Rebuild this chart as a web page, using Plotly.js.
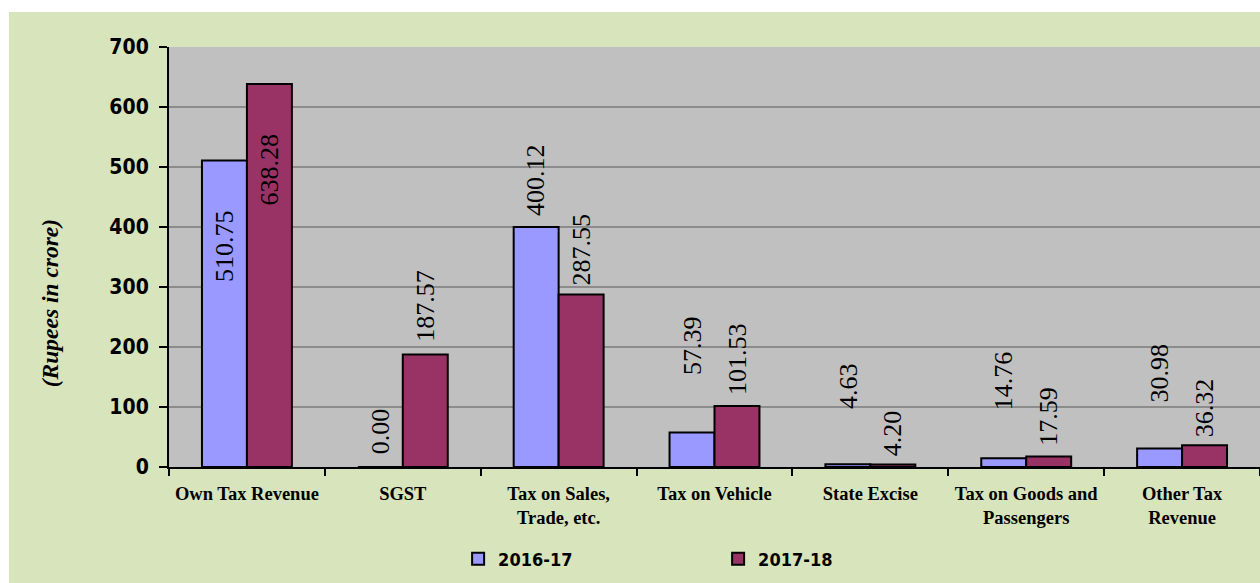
<!DOCTYPE html>
<html><head><meta charset="utf-8">
<script src="https://cdn.plot.ly/plotly-3.0.1.min.js"></script>
<style>
html,body{margin:0;padding:0;background:#ffffff;width:1260px;height:583px;overflow:hidden}
#chart{position:absolute;left:9px;top:12px;width:1251px;height:571px}
</style>
</head><body><div id="chart"></div>
<script>
const categories = ['Own Tax Revenue', 'SGST', 'Tax on Sales,<br>Trade, etc.', 'Tax on Vehicle', 'State Excise', 'Tax on Goods and<br>Passengers', 'Other Tax<br>Revenue'];
const seriesNames = ['2016-17', '2017-18'];
const values2016 = [510.75, 0.00, 400.12, 57.39, 4.63, 14.76, 30.98];
const values2017 = [638.28, 187.57, 287.55, 101.53, 4.20, 17.59, 36.32];
const yTicks = [0, 100, 200, 300, 400, 500, 600, 700];
const yTitle = '(Rupees in crore)';

// label placement (pixels from bar top; style only)
const labelShift2016 = [-123, 11, 9, 55, 53, 46, 44];
const labelShift2017 = [-123, 11, 7, 9, 6, 9, 6];
const colors = ['#9999ff', '#993366'];

const traces = [values2016, values2017].map((vals, k) => ({
  type: 'bar',
  name: seriesNames[k],
  x: categories,
  y: vals,
  marker: {color: colors[k], line: {color: '#000000', width: 2}},
  hoverinfo: 'x+y'
}));

const annotations = [];
[[values2016, labelShift2016, -22.5], [values2017, labelShift2017, 22.5]].forEach(([vals, shifts, xs]) => {
  vals.forEach((v, i) => {
    annotations.push({
      x: categories[i], y: v, xref: 'x', yref: 'y',
      text: v.toFixed(2), showarrow: false, textangle: -90,
      xshift: xs, yshift: shifts[i], yanchor: 'bottom', xanchor: 'center',
      font: {family: 'Liberation Serif, serif', size: 26, color: '#000000'}
    });
  });
});
annotations.push({
  xref: 'paper', yref: 'paper', x: -0.109, y: 0.39, xanchor: 'center', yanchor: 'middle',
  text: yTitle, showarrow: false, textangle: -90,
  font: {family: 'Liberation Serif, serif', size: 23.5, color: '#000000', weight: 'bold', style: 'italic'}
});

const layout = {
  width: 1251, height: 571,
  margin: {l: 160, r: 0, t: 35, b: 116},
  paper_bgcolor: '#d8e4bc',
  plot_bgcolor: '#c0c0c0',
  barmode: 'group', bargap: 0.423, bargroupgap: 0,
  showlegend: true,
  xaxis: {
    type: 'category', tickson: 'boundaries', ticks: 'outside', ticklen: 7, tickwidth: 2, tickcolor: '#000000',
    showline: true, linecolor: '#000000', linewidth: 2, showgrid: false,
    ticklabelstandoff: 9,
    tickfont: {family: 'Liberation Serif, serif', size: 18.5, color: '#000000', weight: 'bold'}
  },
  yaxis: {
    range: [0, 700], tickvals: yTicks, ticktext: yTicks.map(String),
    ticks: 'outside', ticklen: 8, tickwidth: 2, tickcolor: '#000000',
    showline: true, linecolor: '#000000', linewidth: 2,
    gridcolor: '#8c8c8c', gridwidth: 2, zeroline: false,
    ticklabelstandoff: 6,
    tickfont: {family: 'DejaVu Sans Condensed, DejaVu Sans, sans-serif', size: 21, color: '#000000', weight: 'bold'}
  },
  legend: {
    orientation: 'h', x: 0.265, xanchor: 'left', y: -0.219, yanchor: 'middle',
    bgcolor: 'rgba(0,0,0,0)', entrywidth: 215,
    font: {family: 'DejaVu Sans Condensed, DejaVu Sans, sans-serif', size: 18, color: '#000000', weight: 'bold'}
  },
  annotations: annotations
};

Plotly.newPlot('chart', traces, layout, {displayModeBar: false, responsive: false});
</script>
</body></html>
